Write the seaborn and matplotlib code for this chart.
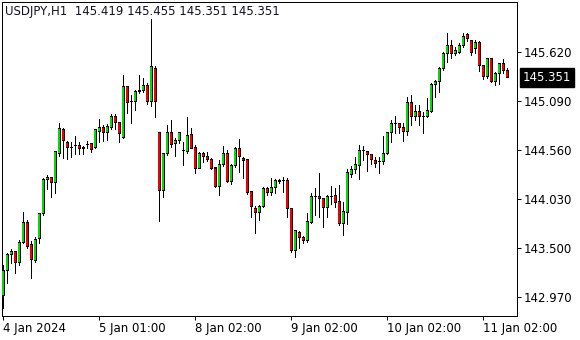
import numpy as np
import pandas as pd
import matplotlib
matplotlib.use("Agg")
import matplotlib.pyplot as plt
from matplotlib import transforms
import seaborn as sns

# ---------------- data (USDJPY H1) ----------------
opens = [142.996, 143.266, 143.429, 143.461, 143.342, 143.569, 143.775, 143.537, 143.364, 143.602,
         143.872, 144.250, 144.261, 144.207, 144.531, 144.780, 144.650, 144.596, 144.607, 144.607,
         144.575, 144.618, 144.629, 144.596, 144.769, 144.802, 144.748, 144.802, 144.921, 144.856,
         144.704, 145.245, 145.083, 145.083, 145.191, 145.212, 145.266, 145.083, 145.450, 144.748,
         144.121, 144.521, 144.748, 144.629, 144.661, 144.553, 144.542, 144.726, 144.596, 144.369,
         144.531, 144.488, 144.466, 144.369, 144.164, 144.412, 144.521, 144.218, 144.391, 144.575,
         144.477, 144.456, 144.110, 143.926, 143.893, 143.948, 144.142, 144.099, 144.153, 144.218,
         144.229, 144.229, 143.926, 143.472, 143.677, 143.623, 143.580, 143.775, 144.066, 144.066,
         144.034, 143.937, 144.066, 144.077, 144.002, 143.764, 143.883, 144.304, 144.348, 144.391,
         144.553, 144.542, 144.510, 144.445, 144.434, 144.434, 144.531, 144.748, 144.845, 144.845,
         144.812, 144.769, 145.072, 144.931, 144.985, 144.921, 144.921, 144.985, 145.277, 145.299,
         145.450, 145.612, 145.688, 145.612, 145.623, 145.688, 145.807, 145.742, 145.656, 145.731,
         145.472, 145.353, 145.548, 145.299, 145.396, 145.494, 145.419]
highs = [143.320, 143.450, 143.493, 143.472, 143.591, 143.893, 143.807, 143.580, 143.623, 143.883,
         144.261, 144.293, 144.272, 144.553, 144.856, 144.802, 144.661, 144.650, 144.715, 144.650,
         144.607, 144.661, 144.639, 144.791, 144.899, 144.834, 144.845, 144.953, 144.953, 144.866,
         145.375, 145.256, 145.158, 145.212, 145.375, 145.342, 145.288, 145.980, 145.472, 144.750,
         144.531, 144.834, 144.888, 144.694, 144.758, 144.650, 144.921, 144.802, 144.618, 144.542,
         144.542, 144.542, 144.477, 144.369, 144.456, 144.607, 144.564, 144.412, 144.596, 144.683,
         144.488, 144.466, 144.121, 143.958, 143.969, 144.164, 144.164, 144.261, 144.250, 144.250,
         144.272, 144.261, 143.937, 143.699, 143.688, 143.634, 143.883, 144.099, 144.153, 144.315,
         144.045, 144.077, 144.175, 144.153, 144.185, 144.002, 144.358, 144.391, 144.488, 144.618,
         144.607, 144.542, 144.521, 144.488, 144.488, 144.715, 144.758, 144.888, 144.931, 144.856,
         144.856, 145.137, 145.158, 145.050, 145.050, 144.975, 145.126, 145.288, 145.321, 145.461,
         145.623, 145.829, 145.753, 145.677, 145.721, 145.829, 145.829, 145.753, 145.753, 145.742,
         145.483, 145.558, 145.558, 145.407, 145.504, 145.548, 145.455]
lows = [142.856, 143.126, 143.342, 143.234, 143.320, 143.558, 143.504, 143.180, 143.353, 143.558,
        143.861, 144.142, 144.056, 144.099, 144.499, 144.477, 144.466, 144.488, 144.521, 144.521,
        144.521, 144.585, 144.542, 144.585, 144.650, 144.661, 144.672, 144.791, 144.791, 144.650,
        144.694, 144.964, 144.856, 144.996, 145.180, 145.191, 145.061, 145.039, 144.921, 143.796,
        144.056, 144.510, 144.596, 144.499, 144.639, 144.402, 144.531, 144.585, 144.315, 144.369,
        144.434, 144.445, 144.358, 144.164, 144.077, 144.391, 144.218, 144.196, 144.380, 144.326,
        144.261, 144.088, 143.839, 143.666, 143.807, 143.948, 144.077, 144.077, 144.099, 144.207,
        144.110, 143.839, 143.461, 143.407, 143.504, 143.558, 143.569, 143.775, 143.861, 143.839,
        143.731, 143.839, 143.980, 143.948, 143.753, 143.645, 143.764, 144.272, 144.315, 144.250,
        144.456, 144.337, 144.412, 144.380, 144.315, 144.412, 144.521, 144.650, 144.748, 144.748,
        144.661, 144.726, 144.834, 144.888, 144.834, 144.748, 144.921, 144.975, 145.137, 145.191,
        145.429, 145.515, 145.558, 145.591, 145.612, 145.677, 145.742, 145.591, 145.612, 145.418,
        145.331, 145.342, 145.299, 145.266, 145.277, 145.396, 145.351]
closes = [143.266, 143.429, 143.461, 143.342, 143.569, 143.775, 143.515, 143.385, 143.591, 143.872,
          144.250, 144.261, 144.207, 144.542, 144.791, 144.661, 144.596, 144.596, 144.607, 144.585,
          144.596, 144.618, 144.564, 144.780, 144.802, 144.748, 144.823, 144.921, 144.856, 144.737,
          145.245, 145.072, 145.083, 145.191, 145.212, 145.266, 145.083, 145.461, 145.083, 144.121,
          144.531, 144.748, 144.618, 144.661, 144.748, 144.553, 144.715, 144.585, 144.369, 144.531,
          144.488, 144.456, 144.369, 144.164, 144.412, 144.521, 144.218, 144.391, 144.575, 144.488,
          144.445, 144.099, 143.948, 143.883, 143.958, 144.142, 144.099, 144.153, 144.239, 144.239,
          144.229, 143.926, 143.472, 143.688, 143.623, 143.580, 143.796, 144.066, 144.066, 144.034,
          143.937, 144.056, 144.066, 143.991, 143.764, 143.904, 144.315, 144.358, 144.402, 144.553,
          144.553, 144.510, 144.456, 144.423, 144.434, 144.531, 144.748, 144.845, 144.845, 144.812,
          144.769, 145.072, 144.931, 144.985, 144.921, 144.921, 144.996, 145.277, 145.299, 145.450,
          145.612, 145.688, 145.612, 145.634, 145.688, 145.796, 145.764, 145.623, 145.731, 145.472,
          145.353, 145.548, 145.299, 145.396, 145.494, 145.418, 145.351]

symbol = "USDJPY,H1"
x_tick_bars = [0, 24, 48, 72, 96, 120]
x_tick_labels = ["4 Jan 2024", "5 Jan 01:00", "8 Jan 02:00", "9 Jan 02:00",
                 "10 Jan 02:00", "11 Jan 02:00"]
y_ticks = [145.620, 145.090, 144.560, 144.030, 143.500, 142.970]
y_range = (142.769, 146.169)

# ---------------- figure ----------------
sns.set_theme(style="white")
plt.rcParams["font.family"] = ["DejaVu Sans"]
FS = 8.5

W, H = 580, 340
ax_h_px = 316 - 1.5
fig = plt.figure(figsize=(W / 100, H / 100), dpi=100)
ax = fig.add_axes([2 / W, 1 - 316 / H, 515 / W, ax_h_px / H])
ax.set_facecolor("white")

df = pd.DataFrame({"open": opens, "high": highs, "low": lows, "close": closes})
df["i"] = np.arange(len(df))
df["bottom"] = df[["open", "close"]].min(axis=1)
df["height"] = (df["close"] - df["open"]).abs()
df["color"] = np.where(df["close"] > df["open"], "#00dd00",
                       np.where(df["close"] < df["open"], "#ee0000", "black"))

pxu = (y_range[1] - y_range[0]) / ax_h_px  # one pixel in price units
px = 0.72  # one pixel in points

# wicks
ax.vlines(df["i"], df["low"], df["high"], color="black", lw=px, zorder=2,
          antialiased=False)
# body outline (black, 3 px wide)
ax.bar(df["i"], df["height"] + pxu, bottom=df["bottom"] - pxu / 2, width=0.75,
       color="black", linewidth=0, zorder=3, antialiased=False)
# body fill (1 px inset)
inner_h = np.clip(df["height"] - pxu, 0, None)
ax.bar(df["i"], inner_h, bottom=df["bottom"] + pxu / 2, width=0.3,
       color=df["color"], linewidth=0, zorder=4, antialiased=False)

ax.set_xlim(-0.25, 128.5)
ax.set_ylim(*y_range)

for s in ax.spines.values():
    s.set_color("black")
    s.set_linewidth(px)
    s.set_visible(True)

ax.set_xticks(x_tick_bars)
ax.set_xticklabels(x_tick_labels, ha="left", fontsize=FS, color="black")
ax.tick_params(axis="x", direction="out", length=3.0, width=px, pad=1.5,
               bottom=True, colors="black")
ax.yaxis.tick_right()
ax.set_yticks(y_ticks)
ax.set_yticklabels([f"{v:.3f}" for v in y_ticks], fontsize=FS, color="black")
ax.tick_params(axis="y", direction="out", length=3.0, width=px, pad=1.5,
               right=True, left=False, colors="black")
ax.set_xlabel("")
ax.set_ylabel("")
ax.grid(False)

# current price tag
last = df.iloc[-1]
trans = transforms.blended_transform_factory(ax.transAxes, ax.transData)
ax.text(1 + 6 / 515, last["close"], f"{last['close']:.3f}", transform=trans,
        color="white", fontsize=FS, ha="left", va="center",
        bbox=dict(boxstyle="square,pad=0.25", fc="black", ec="black"),
        clip_on=False, zorder=5)

# header text
fig.text(5 / W, 1 - 12 / H,
         f"{symbol}  {last['open']:.3f} {last['high']:.3f} {last['low']:.3f} {last['close']:.3f}",
         fontsize=FS, color="#101020", ha="left", va="center")

fig.savefig("out.png", dpi=100, facecolor="white")
